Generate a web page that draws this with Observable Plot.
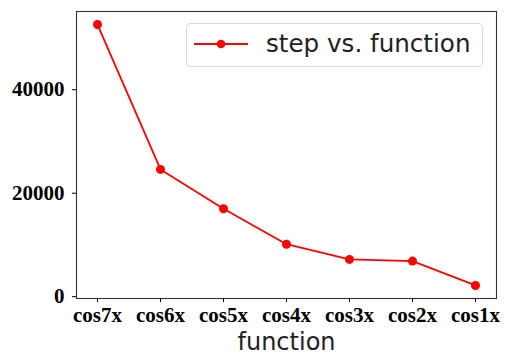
<!DOCTYPE html>
<html>
<head>
<meta charset="utf-8">
<script src="https://cdn.jsdelivr.net/npm/d3@7"></script>
<script src="https://cdn.jsdelivr.net/npm/@observablehq/plot@0.6"></script>
<style>
  html, body { margin: 0; padding: 0; background: #fff; }
  #wrap { position: relative; width: 505px; height: 356px; }
  #legend {
    position: absolute; left: 186px; top: 23px; width: 297px; height: 44px;
    box-sizing: border-box; border: 1px solid #d9d9d9; border-radius: 4px;
    background: rgba(255,255,255,0.8);
    font-family: "DejaVu Sans", sans-serif; font-size: 24.6px; color: #222;
  }
  #legend svg { position: absolute; left: 7px; top: 15px; }
  #legend span { position: absolute; left: 79px; top: 6px; white-space: nowrap; line-height: 28px; }
</style>
</head>
<body>
<div id="wrap"></div>
<script>
const functions = ["cos7x", "cos6x", "cos5x", "cos4x", "cos3x", "cos2x", "cos1x"];
const steps = [52600, 24600, 17000, 10140, 7210, 6880, 2170];
const yTicks = [0, 20000, 40000];
const seriesName = "step vs. function";
const xLabel = "function";

const data = functions.map((f, i) => ({f, step: steps[i]}));
const lo = d3.min(steps), hi = d3.max(steps), m = (hi - lo) * 0.05;

const tickFont = {fontFamily: "'Liberation Serif', 'Times New Roman', serif", fontWeight: "bold", fontSize: 21};

const chart = Plot.plot({
  width: 505,
  height: 356,
  marginLeft: 76,
  marginRight: 9,
  marginTop: 11,
  marginBottom: 58,
  style: {background: "white", color: "black", overflow: "visible"},
  x: {type: "point", domain: functions, padding: 0.3},
  y: {domain: [lo - m, hi + m]},
  marks: [
    Plot.frame({stroke: "#333", strokeWidth: 1.1}),
    Plot.axisY({ticks: yTicks, tickSize: 4, tickPadding: 8, label: null, tickFormat: d => String(d), ...tickFont}),
    Plot.axisX({tickSize: 4, tickPadding: 5, label: null, ...tickFont}),
    Plot.text([xLabel], {frameAnchor: "bottom", lineAnchor: "middle", dy: 44, fontSize: 24, fontFamily: "'DejaVu Sans', sans-serif", fill: "#222"}),
    Plot.line(data, {x: "f", y: "step", stroke: "#ff0000", strokeWidth: 1.8}),
    Plot.dot(data, {x: "f", y: "step", r: 4.5, fill: "#ff0000", stroke: "none"})
  ]
});

const wrap = document.getElementById("wrap");
wrap.appendChild(chart);

const legend = document.createElement("div");
legend.id = "legend";
legend.innerHTML = `<svg width="54" height="10"><line x1="0" y1="5" x2="54" y2="5" stroke="#ff0000" stroke-width="1.8"/><circle cx="27" cy="5" r="4.3" fill="#ff0000"/></svg><span></span>`;
legend.querySelector("span").textContent = seriesName;
wrap.appendChild(legend);
</script>
</body>
</html>
